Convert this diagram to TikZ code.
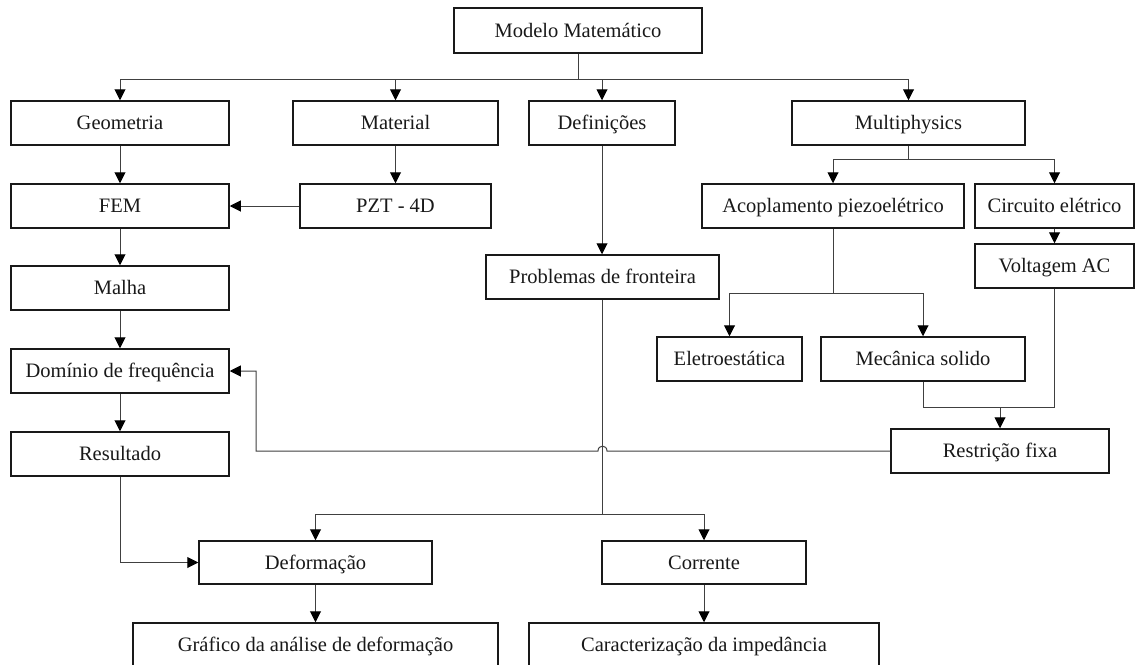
\documentclass[tikz,border=0pt]{standalone}
\usepackage{fontspec}
\setmainfont{Liberation Serif}
\usetikzlibrary{arrows.meta,calc}
\tikzset{
  x=1pt, y=-1pt,
  box/.style={draw=black!90, line width=1.5pt, rectangle, inner sep=0pt,
    minimum height=44pt, text height=18pt, text depth=5pt, anchor=center,
    font=\fontsize{20.5}{24}\selectfont, text=black!90},
  conn/.style={draw=black!75, line width=1pt},
  arr/.style={conn, -{Triangle[length=11pt,width=11pt,fill=black,color=black]}},
}
\begin{document}
\begin{tikzpicture}
\useasboundingbox (0,0) rectangle (1135,664);
\clip (0,0) rectangle (1135,664);
\fill[white] (0,0) rectangle (1135,664);

% nodes
\node[box, minimum width=248pt, minimum height=45pt] (mm) at (578,30.5) {Modelo Matemático};
\node[box, minimum width=218pt] (geo) at (120,123) {Geometria};
\node[box, minimum width=205pt] (mat) at (395.5,123) {Material};
\node[box, minimum width=146pt] (def) at (602,123) {Definições};
\node[box, minimum width=233pt] (mul) at (908.5,123) {Multiphysics};
\node[box, minimum width=218pt] (fem) at (120,206) {FEM};
\node[box, minimum width=191pt] (pzt) at (395.5,206) {PZT - 4D};
\node[box, minimum width=262pt] (aco) at (833,206) {Acoplamento piezoelétrico};
\node[box, minimum width=159pt] (cir) at (1054.5,206) {Circuito elétrico};
\node[box, minimum width=159pt] (vol) at (1054.5,266) {Voltagem AC};
\node[box, minimum width=218pt] (mal) at (120,288) {Malha};
\node[box, minimum width=233pt] (pro) at (602.5,277) {Problemas de fronteira};
\node[box, minimum width=145pt] (ele) at (729.5,359) {Eletroestática};
\node[box, minimum width=204pt] (mec) at (923,359) {Mecânica solido};
\node[box, minimum width=218pt] (dom) at (120,371) {Domínio de frequência};
\node[box, minimum width=218pt] (res) at (120,454) {Resultado};
\node[box, minimum width=218pt] (rf) at (1000,451) {Restrição fixa};
\node[box, minimum width=233pt, minimum height=43pt] (defo) at (315.5,562.5) {Deformação};
\node[box, minimum width=204pt, minimum height=43pt] (cor) at (704,562.5) {Corrente};
\node[box, minimum width=365pt] (gra) at (315.5,645) {Gráfico da análise de deformação};
\node[box, minimum width=350pt] (car) at (704,645) {Caracterização da impedância};

% top distribution
\coordinate (top) at ($(mm.south)+(0,26)$);
\draw[conn] (mm.south) -- (top);
\draw[arr] (top) -| (geo.north);
\draw[arr] (top) -| (mat.north);
\draw[arr] (top) -| (def.north);
\draw[arr] (top) -| (mul.north);

% left column
\draw[arr] (geo) -- (fem);
\draw[arr] (fem) -- (mal);
\draw[arr] (mal) -- (dom);
\draw[arr] (dom) -- (res);
\draw[arr] (mat) -- (pzt);
\draw[arr] (pzt) -- (fem);
\draw[arr] (def.south) -- (def.south |- pro.north);

% multiphysics
\coordinate (mulj) at ($(mul.south)+(0,14)$);
\draw[conn] (mul.south) -- (mulj);
\draw[arr] (mulj) -| (aco.north);
\draw[arr] (mulj) -| (cir.north);
\draw[arr] (cir) -- (vol);

\coordinate (acoj) at ($(aco.south)+(0,65)$);
\draw[conn] (aco.south) -- (acoj);
\draw[arr] (acoj) -| (ele.north);
\draw[arr] (acoj) -| (mec.north);

\coordinate (mecj) at ($(mec.south)+(0,26)$);
\draw[conn] (mec.south) -- (mecj) -| (vol.south);
\draw[arr] (mecj -| rf.north) -- (rf.north);

% feedback with hop
\coordinate (hop) at (pro.south |- rf.west);
\coordinate (fbk) at (256,451);
\draw[arr] (rf.west) -- ($(hop)+(4.5,0)$) .. controls ($(hop)+(4.5,-6.5)$) and ($(hop)+(-4.5,-6.5)$) .. ($(hop)+(-4.5,0)$)
  -- (fbk) |- (dom.east);

% bottom distribution
\coordinate (proj) at ($(pro.south)+(0,215)$);
\draw[conn] (pro.south) -- (proj);
\draw[arr] (proj) -| (defo.north);
\draw[arr] (proj) -| (cor.north);
\draw[arr] (res.south) |- (defo.west);
\draw[arr] (defo) -- (gra);
\draw[arr] (cor) -- (car);
\end{tikzpicture}
\end{document}
